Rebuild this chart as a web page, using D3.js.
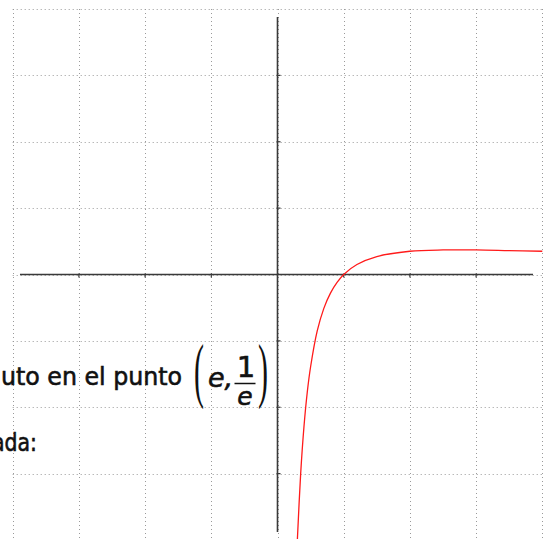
<!DOCTYPE html>
<html>
<head>
<meta charset="utf-8">
<script src="https://cdn.jsdelivr.net/npm/d3@7"></script>
<style>
  html, body { margin: 0; padding: 0; background: #fff; }
  svg { display: block; }
</style>
</head>
<body>
<svg width="552" height="539"></svg>
<script>
// grid and tick positions, in plot units
const gridX = [-4, -3, -2, -1, 0, 1, 2, 3, 4];
const gridY = [-4, -3, -2, -1, 0, 1, 2, 3, 4];
const ticksX = [-3, -2, -1, 1, 2, 3];
const ticksY = [-3, -2, -1, 1, 2, 3];

// points
const curveX = [0.3, 0.35, 0.4, 0.45, 0.5, 0.6, 0.7, 0.8, 0.9, 1, 1.2, 1.5, 2, 2.5, 3, 3.5, 4];
const curveY = [-4.0, -3.0, -2.29, -1.77, -1.39, -0.85, -0.51, -0.28, -0.12, 0, 0.15, 0.27, 0.35, 0.37, 0.37, 0.36, 0.35];

// axis extent
const axisXRange = [-3.89, 3.86];
const axisYRange = [-3.88, 3.88];

// text fragments
const line1 = 'uto en el punto';
const line2 = 'ada:';
const pointE = 'e,';
const fracTop = '1';
const fracBottom = 'e';

const svg = d3.select('svg'),
    width = +svg.attr('width'),
    height = +svg.attr('height');

const x = d3.scaleLinear().domain([-4, 4]).range([12.7, 542.3]);
const y = d3.scaleLinear().domain([4, -4]).range([9, 540]);

// dotted grid
const grid = svg.append('g').attr('class', 'grid')
  .attr('stroke', '#9a9a9a')
  .attr('stroke-width', 1)
  .attr('stroke-dasharray', '1,3');

grid.selectAll('line.v')
  .data(gridX)
  .enter().append('line')
    .attr('class', 'v')
    .attr('x1', d => Math.round(x(d)) + 0.5)
    .attr('x2', d => Math.round(x(d)) + 0.5)
    .attr('y1', y(4))
    .attr('y2', height);

grid.selectAll('line.h')
  .data(gridY)
  .enter().append('line')
    .attr('class', 'h')
    .attr('y1', d => Math.round(y(d)) + 0.5)
    .attr('y2', d => Math.round(y(d)) + 0.5)
    .attr('x1', x(-4))
    .attr('x2', x(4));

// axes
const axes = svg.append('g').attr('class', 'axes')
  .attr('stroke', '#3a3a3a')
  .attr('stroke-width', 1.6);

axes.append('line')
  .attr('x1', x(axisXRange[0])).attr('x2', x(axisXRange[1]))
  .attr('y1', y(0)).attr('y2', y(0));

axes.append('line')
  .attr('x1', x(0)).attr('x2', x(0))
  .attr('y1', y(axisYRange[1])).attr('y2', y(axisYRange[0]));

axes.selectAll('line.tx')
  .data(ticksX)
  .enter().append('line')
    .attr('class', 'tx')
    .attr('stroke-width', 1.2)
    .attr('x1', d => x(d)).attr('x2', d => x(d))
    .attr('y1', y(0) - 1).attr('y2', y(0) + 3);

axes.selectAll('line.ty')
  .data(ticksY)
  .enter().append('line')
    .attr('class', 'ty')
    .attr('stroke-width', 1.2)
    .attr('y1', d => y(d)).attr('y2', d => y(d))
    .attr('x1', x(0) - 1).attr('x2', x(0) + 3);

// curve
const points = curveX.map((v, i) => [v, curveY[i]]);

const line = d3.line()
  .x(d => x(d[0]))
  .y(d => y(d[1]))
  .curve(d3.curveCatmullRom);

svg.append('path')
  .datum(points)
  .attr('fill', 'none')
  .attr('stroke', '#ff1a1a')
  .attr('stroke-width', 1.3)
  .attr('d', line);

// text overlay
const font = '"DejaVu Sans", sans-serif';
const text = svg.append('g')
  .attr('fill', '#111')
  .attr('stroke', '#111')
  .attr('stroke-width', 0.6)
  .style('font-family', font);

text.append('text')
  .attr('x', 1).attr('y', 385)
  .attr('font-size', 24)
  .attr('textLength', 181)
  .attr('lengthAdjust', 'spacingAndGlyphs')
  .text(line1);

text.append('text')
  .attr('x', 37).attr('y', 451)
  .attr('text-anchor', 'end')
  .attr('font-size', 24)
  .attr('textLength', 45)
  .attr('lengthAdjust', 'spacingAndGlyphs')
  .text(line2);

// parentheses
const parenFont = '"Liberation Serif", serif';
const parens = text.append('g').attr('stroke', 'none').style('font-family', parenFont);
parens.append('text')
  .attr('transform', 'translate(194,394) scale(1,2.4)')
  .attr('font-size', 30)
  .text('(');

parens.append('text')
  .attr('transform', 'translate(258,394) scale(1,2.4)')
  .attr('font-size', 30)
  .text(')');

text.append('text')
  .attr('x', 208).attr('y', 387)
  .attr('font-size', 27)
  .attr('font-style', 'italic')
  .text(pointE);

text.append('text')
  .attr('x', 246).attr('y', 377)
  .attr('text-anchor', 'middle')
  .attr('font-size', 29)
  .text(fracTop);

text.append('line')
  .attr('x1', 234.5).attr('x2', 255.5)
  .attr('y1', 383.5).attr('y2', 383.5)
  .attr('stroke-width', 1.5);

text.append('text')
  .attr('x', 245).attr('y', 405)
  .attr('text-anchor', 'middle')
  .attr('font-size', 25)
  .attr('font-style', 'italic')
  .text(fracBottom);
</script>
</body>
</html>
